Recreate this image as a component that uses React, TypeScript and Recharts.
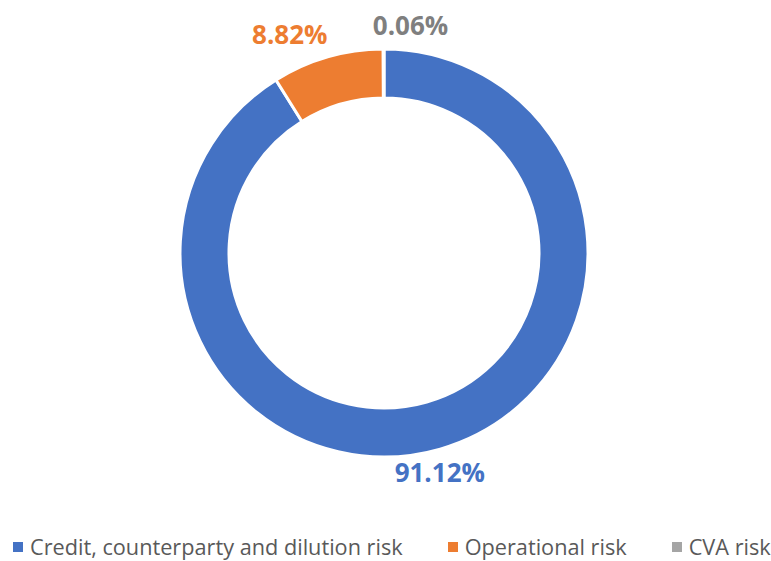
import React from 'react';
import { PieChart, Pie, Cell, Legend } from 'recharts';

const categories = ['Credit, counterparty and dilution risk', 'Operational risk', 'CVA risk'];
const shares = [91.12, 8.82, 0.06];
const labels = ['91.12%', '8.82%', '0.06%'];
const colors = ['#4472C4', '#ED7D31', '#A5A5A5'];
const labelColors = ['#4472C4', '#ED7D31', '#7F7F7F'];

const data = categories.map((name, i) => ({ name, value: shares[i], label: labels[i] }));

const RADIAN = Math.PI / 180;
const labelNudge = [-7, -31, 27];

const renderLabel = (props: any) => {
  const { cx, cy, midAngle, outerRadius, index } = props;
  const r = outerRadius + 24;
  const x = cx + r * Math.cos(-midAngle * RADIAN) + labelNudge[index];
  const y = cy + r * Math.sin(-midAngle * RADIAN);
  return (
    <text
      x={x}
      y={y}
      fill={labelColors[index]}
      textAnchor="middle"
      dominantBaseline="central"
      style={{ fontFamily: '"Open Sans", sans-serif', fontWeight: 700, fontSize: 26 }}
    >
      {labels[index]}
    </text>
  );
};

const renderLegend = (props: any) => {
  const { payload } = props;
  return (
    <div style={{ display: 'flex', alignItems: 'center', fontFamily: '"Open Sans", sans-serif', fontSize: 21.7, color: '#595959', whiteSpace: 'nowrap' }}>
      {payload.map((entry: any, i: number) => (
        <div key={i} style={{ display: 'flex', alignItems: 'center', marginRight: i < payload.length - 1 ? 45 : 0 }}>
          <span style={{ display: 'inline-block', width: 10, height: 10, background: colors[i], marginRight: 7 }} />
          <span>{categories[i]}</span>
        </div>
      ))}
    </div>
  );
};

export default function App() {
  return (
    <div style={{ position: 'absolute', left: 0, top: 0, width: 771, height: 561, background: '#fff' }}>
      <PieChart width={771} height={561} margin={{ top: 0, right: 0, bottom: 0, left: 0 }}>
        <Pie
          data={data}
          dataKey="value"
          nameKey="name"
          cx={384}
          cy={253}
          innerRadius={155}
          outerRadius={204}
          startAngle={90}
          endAngle={-270}
          stroke="#ffffff"
          strokeWidth={3}
          label={renderLabel}
          labelLine={false}
          isAnimationActive={false}
        >
          {data.map((d, i) => (
            <Cell key={d.name} fill={colors[i]} />
          ))}
        </Pie>
        <Legend
          content={renderLegend}
          wrapperStyle={{ position: 'absolute', left: 13, top: 532, width: 760, height: 30 }}
        />
      </PieChart>
    </div>
  );
}
